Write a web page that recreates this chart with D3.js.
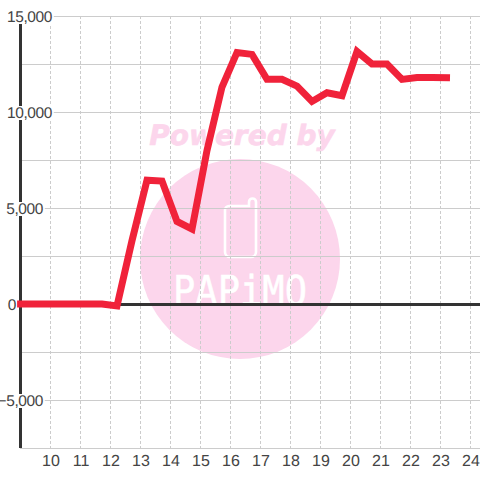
<!DOCTYPE html>
<html><head><meta charset="utf-8">
<style>html,body{margin:0;padding:0;background:#fff}svg{display:block}text{text-rendering:geometricPrecision}</style>
<script src="https://cdn.jsdelivr.net/npm/d3@7"></script></head>
<body><svg id="c" width="480" height="480"></svg>
<script>
const seriesX=[8.87,11.7,12.2,12.7,13.2,13.7,14.2,14.7,15.2,15.7,16.2,16.7,17.2,17.7,18.2,18.7,19.2,19.7,20.2,20.7,21.2,21.7,22.2,22.7,23.3];
const seriesY=[0,0,-100,3300,6450,6400,4300,3900,8000,11300,13100,13000,11700,11700,11350,10550,11000,10850,13150,12500,12500,11700,11800,11800,11780];
const xTicks=[10,11,12,13,14,15,16,17,18,19,20,21,22,23,24];
const yGrid=[15000,12500,10000,7500,5000,2500,0,-2500,-5000,-7500];
const yLabels=[15000,10000,5000,0,-5000];
const yLabelEnds=[52,52,43,16,43];
const svg=d3.select("#c");
const x=d3.scaleLinear().domain([10,24]).range([51,471]);
const y=d3.scaleLinear().domain([0,15000]).range([304,16]);
const grid="#cccccc",dark="#333333",txt="#444444",pink="#fcd6ec";
const L=20,R=480;
// watermark
svg.append("text").attr("x",242).attr("y",145).attr("text-anchor","middle").attr("font-family","DejaVu Sans").attr("font-weight","bold").attr("font-style","italic").attr("font-size",28).attr("fill",pink).attr("stroke",pink).attr("stroke-width",.6).text("Powered by");
svg.append("circle").attr("cx",240).attr("cy",259).attr("r",100).attr("fill",pink);
svg.append("path").attr("d","M229 206H249V202a3.500 3.500 0 0 1 7 0V252a5 5 0 0 1-5 5H230a5 5 0 0 1-5-5V210a4 4 0 0 1 4-4Z").attr("fill","none").attr("stroke","#fff").attr("stroke-width",2.6);
svg.append("text").attr("x",240).attr("y",305).attr("text-anchor","middle").attr("font-family","DejaVu Sans Mono").attr("font-size",41).attr("textLength",134).attr("lengthAdjust","spacingAndGlyphs").attr("fill","#fff").attr("stroke","#fff").attr("stroke-width",.5).text("PAPiMO");
// grid
svg.append("g").selectAll("line").data(xTicks).join("line").attr("x1",d=>x(d)-.5).attr("x2",d=>x(d)-.5).attr("y1",y(15000)).attr("y2",y(-7500)).attr("stroke",grid).attr("stroke-dasharray","3 2");
svg.append("g").selectAll("line").data(yGrid.filter(d=>d!==0)).join("line").attr("x1",L).attr("x2",R).attr("y1",d=>y(d)+.5).attr("y2",d=>y(d)+.5).attr("stroke",grid).attr("stroke-width",1);
// axes
svg.append("line").attr("x1",L).attr("x2",R).attr("y1",y(0)+.5).attr("y2",y(0)+.5).attr("stroke",dark).attr("stroke-width",3);
svg.append("line").attr("x1",L+.5).attr("x2",L+.5).attr("y1",y(15000)).attr("y2",y(-7500)).attr("stroke",dark).attr("stroke-width",3);
// y labels with white backing
const yg=svg.append("g");
const labels=yg.selectAll("text").data(yLabels).join("text").attr("x",(d,i)=>yLabelEnds[i]).attr("y",d=>y(d)+5.5).attr("text-anchor","end").attr("font-family","Liberation Sans").attr("font-size",15.5).attr("letter-spacing",-0.4).attr("fill",txt).text(d=>d3.format(",")(d));
labels.each(function(d){const b=this.getBBox();
  yg.insert("rect","text").attr("x",b.x-1).attr("y",y(d)-6).attr("width",b.width+2).attr("height",14).attr("fill","#fff");});
svg.append("g").selectAll("text").data(xTicks).join("text").attr("x",d=>x(d)).attr("y",466).attr("text-anchor","middle").attr("font-family","Liberation Sans").attr("font-size",16).attr("fill",txt).text(d=>d);
// series
const line=d3.line().x((d,i)=>x(seriesX[i])).y(d=>y(d));
svg.append("path").attr("d",line(seriesY)).attr("fill","none").attr("stroke","#f0223a").attr("stroke-width",7).attr("stroke-linejoin","miter");
</script></body></html>
